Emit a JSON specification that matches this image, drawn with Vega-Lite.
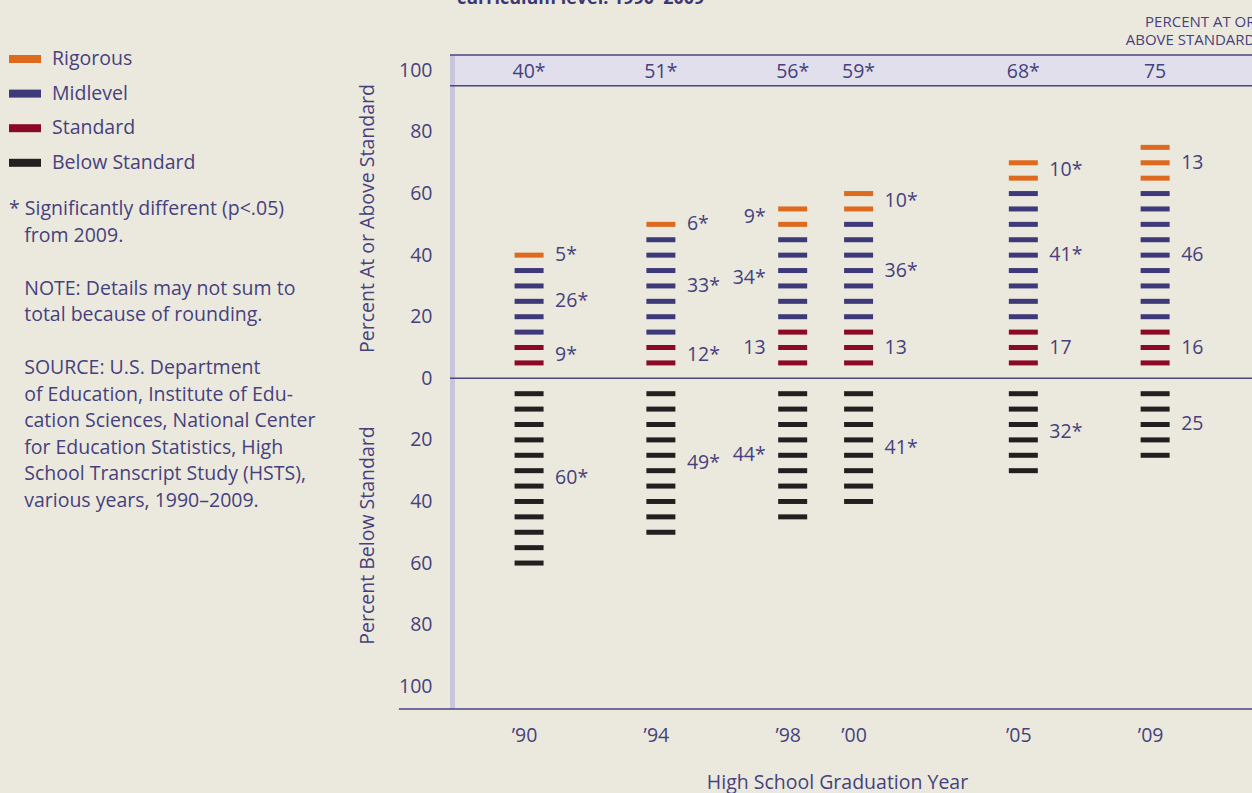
{
  "$schema": "https://vega.github.io/schema/vega-lite/v6.json",
  "width": 802,
  "height": 654,
  "autosize": {"type": "none"},
  "padding": {"left": 450, "top": 55, "right": 0, "bottom": 84},
  "background": "#ebe9dd",
  "config": {
    "view": {"stroke": null},
    "font": "Open Sans",
    "axis": {"grid": false, "ticks": false, "domain": false, "labelFont": "Open Sans", "titleFont": "Open Sans", "labelColor": "#46417d", "titleColor": "#46417d", "titleFontWeight": "normal"},
    "legend": {"labelFont": "Open Sans", "titleFont": "Open Sans"}
  },
  "title": {"text": "curriculum level: 1990–2009", "anchor": "start", "frame": "group", "dx": 7, "dy": 14, "offset": 6, "fontSize": 18, "fontWeight": "bold", "color": "#3d3874", "font": "Open Sans", "baseline": "alphabetic"},
  "datasets": {
    "dashes": [
      {"year": 1990, "cat": "Standard", "level": 5}, {"year": 1990, "cat": "Standard", "level": 10},
      {"year": 1990, "cat": "Midlevel", "level": 15}, {"year": 1990, "cat": "Midlevel", "level": 20}, {"year": 1990, "cat": "Midlevel", "level": 25}, {"year": 1990, "cat": "Midlevel", "level": 30}, {"year": 1990, "cat": "Midlevel", "level": 35},
      {"year": 1990, "cat": "Rigorous", "level": 40},
      {"year": 1990, "cat": "Below Standard", "level": -5}, {"year": 1990, "cat": "Below Standard", "level": -10}, {"year": 1990, "cat": "Below Standard", "level": -15}, {"year": 1990, "cat": "Below Standard", "level": -20}, {"year": 1990, "cat": "Below Standard", "level": -25}, {"year": 1990, "cat": "Below Standard", "level": -30}, {"year": 1990, "cat": "Below Standard", "level": -35}, {"year": 1990, "cat": "Below Standard", "level": -40}, {"year": 1990, "cat": "Below Standard", "level": -45}, {"year": 1990, "cat": "Below Standard", "level": -50}, {"year": 1990, "cat": "Below Standard", "level": -55}, {"year": 1990, "cat": "Below Standard", "level": -60},

      {"year": 1994, "cat": "Standard", "level": 5}, {"year": 1994, "cat": "Standard", "level": 10},
      {"year": 1994, "cat": "Midlevel", "level": 15}, {"year": 1994, "cat": "Midlevel", "level": 20}, {"year": 1994, "cat": "Midlevel", "level": 25}, {"year": 1994, "cat": "Midlevel", "level": 30}, {"year": 1994, "cat": "Midlevel", "level": 35}, {"year": 1994, "cat": "Midlevel", "level": 40}, {"year": 1994, "cat": "Midlevel", "level": 45},
      {"year": 1994, "cat": "Rigorous", "level": 50},
      {"year": 1994, "cat": "Below Standard", "level": -5}, {"year": 1994, "cat": "Below Standard", "level": -10}, {"year": 1994, "cat": "Below Standard", "level": -15}, {"year": 1994, "cat": "Below Standard", "level": -20}, {"year": 1994, "cat": "Below Standard", "level": -25}, {"year": 1994, "cat": "Below Standard", "level": -30}, {"year": 1994, "cat": "Below Standard", "level": -35}, {"year": 1994, "cat": "Below Standard", "level": -40}, {"year": 1994, "cat": "Below Standard", "level": -45}, {"year": 1994, "cat": "Below Standard", "level": -50},

      {"year": 1998, "cat": "Standard", "level": 5}, {"year": 1998, "cat": "Standard", "level": 10}, {"year": 1998, "cat": "Standard", "level": 15},
      {"year": 1998, "cat": "Midlevel", "level": 20}, {"year": 1998, "cat": "Midlevel", "level": 25}, {"year": 1998, "cat": "Midlevel", "level": 30}, {"year": 1998, "cat": "Midlevel", "level": 35}, {"year": 1998, "cat": "Midlevel", "level": 40}, {"year": 1998, "cat": "Midlevel", "level": 45},
      {"year": 1998, "cat": "Rigorous", "level": 50}, {"year": 1998, "cat": "Rigorous", "level": 55},
      {"year": 1998, "cat": "Below Standard", "level": -5}, {"year": 1998, "cat": "Below Standard", "level": -10}, {"year": 1998, "cat": "Below Standard", "level": -15}, {"year": 1998, "cat": "Below Standard", "level": -20}, {"year": 1998, "cat": "Below Standard", "level": -25}, {"year": 1998, "cat": "Below Standard", "level": -30}, {"year": 1998, "cat": "Below Standard", "level": -35}, {"year": 1998, "cat": "Below Standard", "level": -40}, {"year": 1998, "cat": "Below Standard", "level": -45},

      {"year": 2000, "cat": "Standard", "level": 5}, {"year": 2000, "cat": "Standard", "level": 10}, {"year": 2000, "cat": "Standard", "level": 15},
      {"year": 2000, "cat": "Midlevel", "level": 20}, {"year": 2000, "cat": "Midlevel", "level": 25}, {"year": 2000, "cat": "Midlevel", "level": 30}, {"year": 2000, "cat": "Midlevel", "level": 35}, {"year": 2000, "cat": "Midlevel", "level": 40}, {"year": 2000, "cat": "Midlevel", "level": 45}, {"year": 2000, "cat": "Midlevel", "level": 50},
      {"year": 2000, "cat": "Rigorous", "level": 55}, {"year": 2000, "cat": "Rigorous", "level": 60},
      {"year": 2000, "cat": "Below Standard", "level": -5}, {"year": 2000, "cat": "Below Standard", "level": -10}, {"year": 2000, "cat": "Below Standard", "level": -15}, {"year": 2000, "cat": "Below Standard", "level": -20}, {"year": 2000, "cat": "Below Standard", "level": -25}, {"year": 2000, "cat": "Below Standard", "level": -30}, {"year": 2000, "cat": "Below Standard", "level": -35}, {"year": 2000, "cat": "Below Standard", "level": -40},

      {"year": 2005, "cat": "Standard", "level": 5}, {"year": 2005, "cat": "Standard", "level": 10}, {"year": 2005, "cat": "Standard", "level": 15},
      {"year": 2005, "cat": "Midlevel", "level": 20}, {"year": 2005, "cat": "Midlevel", "level": 25}, {"year": 2005, "cat": "Midlevel", "level": 30}, {"year": 2005, "cat": "Midlevel", "level": 35}, {"year": 2005, "cat": "Midlevel", "level": 40}, {"year": 2005, "cat": "Midlevel", "level": 45}, {"year": 2005, "cat": "Midlevel", "level": 50}, {"year": 2005, "cat": "Midlevel", "level": 55}, {"year": 2005, "cat": "Midlevel", "level": 60},
      {"year": 2005, "cat": "Rigorous", "level": 65}, {"year": 2005, "cat": "Rigorous", "level": 70},
      {"year": 2005, "cat": "Below Standard", "level": -5}, {"year": 2005, "cat": "Below Standard", "level": -10}, {"year": 2005, "cat": "Below Standard", "level": -15}, {"year": 2005, "cat": "Below Standard", "level": -20}, {"year": 2005, "cat": "Below Standard", "level": -25}, {"year": 2005, "cat": "Below Standard", "level": -30},

      {"year": 2009, "cat": "Standard", "level": 5}, {"year": 2009, "cat": "Standard", "level": 10}, {"year": 2009, "cat": "Standard", "level": 15},
      {"year": 2009, "cat": "Midlevel", "level": 20}, {"year": 2009, "cat": "Midlevel", "level": 25}, {"year": 2009, "cat": "Midlevel", "level": 30}, {"year": 2009, "cat": "Midlevel", "level": 35}, {"year": 2009, "cat": "Midlevel", "level": 40}, {"year": 2009, "cat": "Midlevel", "level": 45}, {"year": 2009, "cat": "Midlevel", "level": 50}, {"year": 2009, "cat": "Midlevel", "level": 55}, {"year": 2009, "cat": "Midlevel", "level": 60},
      {"year": 2009, "cat": "Rigorous", "level": 65}, {"year": 2009, "cat": "Rigorous", "level": 70}, {"year": 2009, "cat": "Rigorous", "level": 75},
      {"year": 2009, "cat": "Below Standard", "level": -5}, {"year": 2009, "cat": "Below Standard", "level": -10}, {"year": 2009, "cat": "Below Standard", "level": -15}, {"year": 2009, "cat": "Below Standard", "level": -20}, {"year": 2009, "cat": "Below Standard", "level": -25}
    ],
    "segments": [
      {"seg": "1990 Rigorous", "label": "5*"}, {"seg": "1990 Midlevel", "label": "26*"}, {"seg": "1990 Standard", "label": "9*"}, {"seg": "1990 Below Standard", "label": "60*"},
      {"seg": "1994 Rigorous", "label": "6*"}, {"seg": "1994 Midlevel", "label": "33*"}, {"seg": "1994 Standard", "label": "12*"}, {"seg": "1994 Below Standard", "label": "49*"},
      {"seg": "1998 Rigorous", "label": "9*"}, {"seg": "1998 Midlevel", "label": "34*"}, {"seg": "1998 Standard", "label": "13"}, {"seg": "1998 Below Standard", "label": "44*"},
      {"seg": "2000 Rigorous", "label": "10*"}, {"seg": "2000 Midlevel", "label": "36*"}, {"seg": "2000 Standard", "label": "13"}, {"seg": "2000 Below Standard", "label": "41*"},
      {"seg": "2005 Rigorous", "label": "10*"}, {"seg": "2005 Midlevel", "label": "41*"}, {"seg": "2005 Standard", "label": "17"}, {"seg": "2005 Below Standard", "label": "32*"},
      {"seg": "2009 Rigorous", "label": "13"}, {"seg": "2009 Midlevel", "label": "46"}, {"seg": "2009 Standard", "label": "16"}, {"seg": "2009 Below Standard", "label": "25"}
    ],
    "totals": [
      {"year": 1990, "t": "40*"}, {"year": 1994, "t": "51*"}, {"year": 1998, "t": "56*"},
      {"year": 2000, "t": "59*"}, {"year": 2005, "t": "68*"}, {"year": 2009, "t": "75"}
    ]
  },
  "layer": [
    {
      "data": {"values": [{}]},
      "mark": {"type": "rect", "color": "#e0dfeb"},
      "encoding": {
        "x": {"datum": 1987.6, "type": "quantitative", "scale": {"domain": [1987.6, 2011.94], "nice": false, "zero": false}, "axis": null},
        "x2": {"datum": 2011.94},
        "y": {"datum": 95, "type": "quantitative", "scale": {"domain": [-107.4, 105], "nice": false, "zero": false}, "axis": null},
        "y2": {"datum": 105}
      }
    },
    {
      "data": {"values": [{}]},
      "mark": {"type": "rect", "color": "#c8c5dd"},
      "encoding": {
        "x": {"datum": 1987.6, "type": "quantitative", "scale": {"domain": [1987.6, 2011.94], "nice": false, "zero": false}, "axis": null},
        "x2": {"datum": 1987.752},
        "y": {"datum": -107.4, "type": "quantitative", "scale": {"domain": [-107.4, 105], "nice": false, "zero": false},
              "axis": {"orient": "left", "labels": false, "title": "Percent Below Standard", "titleFontSize": 19.5, "titleX": -83, "titleY": 480, "titleBaseline": "middle"}},
        "y2": {"datum": 105}
      }
    },
    {
      "data": {"values": [{}]},
      "mark": {"type": "rule", "color": "#4a4583", "strokeWidth": 1.5},
      "encoding": {"y": {"datum": 105, "type": "quantitative", "scale": {"domain": [-107.4, 105], "nice": false, "zero": false}, "axis": null}}
    },
    {
      "data": {"values": [{}]},
      "mark": {"type": "rule", "color": "#4a4583", "strokeWidth": 1.5},
      "encoding": {"y": {"datum": 95, "type": "quantitative", "scale": {"domain": [-107.4, 105], "nice": false, "zero": false}, "axis": null}}
    },
    {
      "data": {"values": [{}]},
      "mark": {"type": "rule", "color": "#4a4583", "strokeWidth": 1.5},
      "encoding": {"y": {"datum": 0, "type": "quantitative", "scale": {"domain": [-107.4, 105], "nice": false, "zero": false}, "axis": null}}
    },
    {
      "data": {"values": [{}]},
      "mark": {"type": "rule", "color": "#4a4583", "strokeWidth": 1.5},
      "encoding": {
        "x": {"datum": 1986.05, "type": "quantitative", "scale": {"domain": [1987.6, 2011.94], "nice": false, "zero": false}, "axis": null},
        "x2": {"datum": 2011.94},
        "y": {"datum": -107.4, "type": "quantitative", "scale": {"domain": [-107.4, 105], "nice": false, "zero": false}, "axis": null}
      }
    },
    {
      "data": {"name": "dashes"},
      "mark": {"type": "tick", "orient": "horizontal", "size": 29, "thickness": 5, "opacity": 1},
      "encoding": {
        "x": {"field": "year", "type": "quantitative", "scale": {"domain": [1987.6, 2011.94], "nice": false, "zero": false},
              "axis": {"orient": "bottom", "values": [1990, 1994, 1998, 2000, 2005, 2009], "labelExpr": "'’' + substring(toString(datum.value), 2)", "labelFontSize": 19.5, "labelPadding": 17, "labelFlush": false, "labelOffset": -5,
                       "title": "High School Graduation Year", "titleFontSize": 19.5, "titleX": 387, "titleY": 73, "titleBaseline": "middle"}},
        "y": {"field": "level", "type": "quantitative", "scale": {"domain": [-107.4, 105], "nice": false, "zero": false},
              "axis": {"orient": "left", "values": [-100, -80, -60, -40, -20, 0, 20, 40, 60, 80, 100], "labelExpr": "abs(datum.value)", "labelFontSize": 19.5, "labelPadding": 18,
                       "title": "Percent At or Above Standard", "titleFontSize": 19.5, "titleX": -83, "titleY": 163, "titleBaseline": "middle"}},
        "color": {"field": "cat", "type": "nominal",
                  "scale": {"domain": ["Rigorous", "Midlevel", "Standard", "Below Standard"], "range": ["#dd6a1f", "#3e3979", "#8a0a25", "#231f20"]},
                  "legend": {"orient": "none", "legendX": -441, "legendY": -12, "padding": 0,
                             "symbolType": "M-1,-0.25H1V0.25H-1Z", "symbolSize": 1024, "symbolStrokeWidth": 0, "symbolOpacity": 1,
                             "labelFontSize": 19.5, "labelColor": "#46417d", "labelOffset": 11, "rowPadding": 8.6,
                             "title": ["*\u00a0Significantly different (p<.05)", "\u200b\u00a0\u00a0\u00a0from 2009.", "\u200b", "\u200b\u00a0\u00a0\u00a0NOTE: Details may not sum to", "\u200b\u00a0\u00a0\u00a0total because of rounding.", "\u200b", "\u200b\u00a0\u00a0\u00a0SOURCE: U.S. Department", "\u200b\u00a0\u00a0\u00a0of Education, Institute of Edu-", "\u200b\u00a0\u00a0\u00a0cation Sciences, National Center", "\u200b\u00a0\u00a0\u00a0for Education Statistics, High", "\u200b\u00a0\u00a0\u00a0School Transcript Study (HSTS),", "\u200b\u00a0\u00a0\u00a0various years, 1990–2009."],
                             "titleOrient": "bottom", "titleAnchor": "start", "titleFontSize": 19.5, "titleFontWeight": "normal", "titleColor": "#46417d", "titleLineHeight": 26.5, "titleLimit": 500, "titlePadding": 28}}
      }
    },
    {
      "data": {"name": "dashes"},
      "transform": [
        {"aggregate": [{"op": "mean", "field": "level", "as": "mid"}], "groupby": ["year", "cat"]},
        {"calculate": "datum.year + ' ' + datum.cat", "as": "seg"},
        {"lookup": "seg", "from": {"data": {"name": "segments"}, "key": "seg", "fields": ["label"]}},
        {"filter": "datum.year != 1998"}
      ],
      "mark": {"type": "text", "align": "left", "baseline": "middle", "dx": 26, "fontSize": 19.5, "color": "#46417d"},
      "encoding": {
        "x": {"field": "year", "type": "quantitative", "scale": {"domain": [1987.6, 2011.94], "nice": false, "zero": false}, "axis": null},
        "y": {"field": "mid", "type": "quantitative", "scale": {"domain": [-107.4, 105], "nice": false, "zero": false}, "axis": null},
        "text": {"field": "label"}
      }
    },
    {
      "data": {"name": "dashes"},
      "transform": [
        {"aggregate": [{"op": "mean", "field": "level", "as": "mid"}], "groupby": ["year", "cat"]},
        {"calculate": "datum.year + ' ' + datum.cat", "as": "seg"},
        {"lookup": "seg", "from": {"data": {"name": "segments"}, "key": "seg", "fields": ["label"]}},
        {"filter": "datum.year == 1998"}
      ],
      "mark": {"type": "text", "align": "right", "baseline": "middle", "dx": -27, "fontSize": 19.5, "color": "#46417d"},
      "encoding": {
        "x": {"field": "year", "type": "quantitative", "scale": {"domain": [1987.6, 2011.94], "nice": false, "zero": false}, "axis": null},
        "y": {"field": "mid", "type": "quantitative", "scale": {"domain": [-107.4, 105], "nice": false, "zero": false}, "axis": null},
        "text": {"field": "label"}
      }
    },
    {
      "data": {"name": "totals"},
      "mark": {"type": "text", "baseline": "middle", "fontSize": 19.5, "color": "#46417d"},
      "encoding": {
        "x": {"field": "year", "type": "quantitative", "scale": {"domain": [1987.6, 2011.94], "nice": false, "zero": false},
              "axis": {"orient": "top", "labels": false, "title": ["PERCENT AT OR", "ABOVE STANDARD"], "titleFontSize": 15, "titleX": 805, "titleY": -34, "titleAlign": "right", "titleBaseline": "middle", "titleLineHeight": 18.7}},
        "y": {"datum": 99.5, "type": "quantitative", "scale": {"domain": [-107.4, 105], "nice": false, "zero": false}, "axis": null},
        "text": {"field": "t"}
      }
    }
  ],
  "resolve": {"axis": {"x": "independent", "y": "independent"}}
}
